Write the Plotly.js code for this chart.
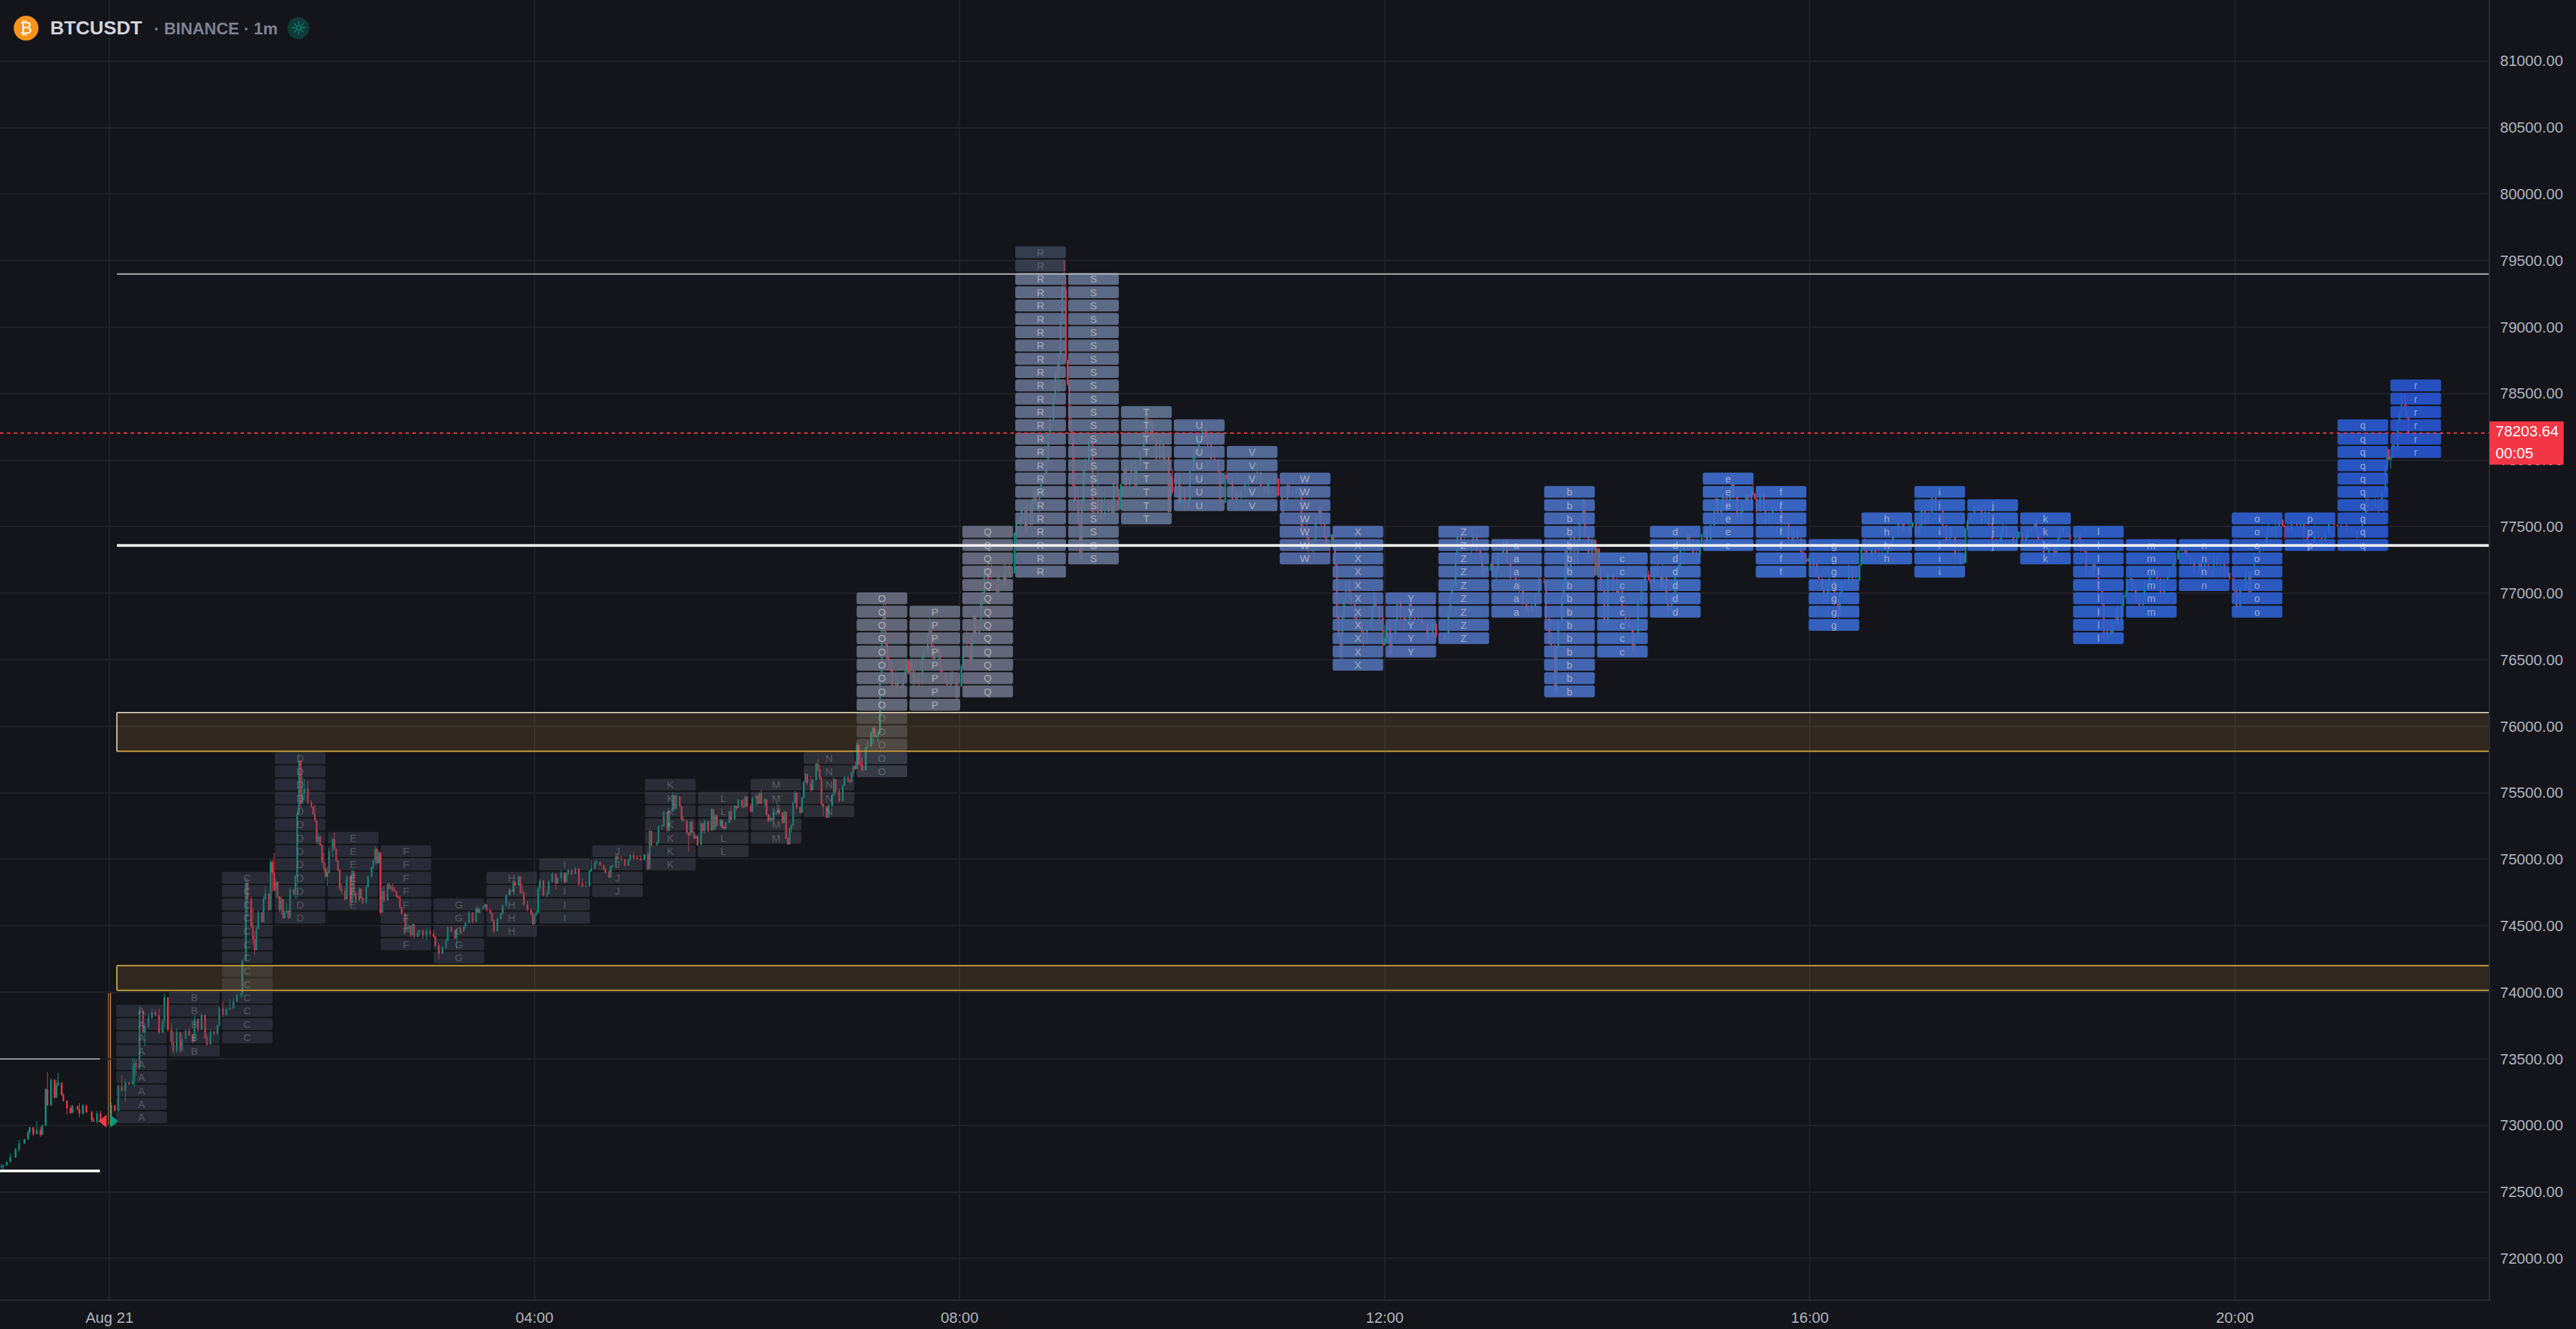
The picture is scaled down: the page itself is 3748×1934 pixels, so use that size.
<!DOCTYPE html>
<html><head><meta charset="utf-8">
<script src="https://cdn.plot.ly/plotly-3.0.1.min.js"></script>
<style>html,body{margin:0;padding:0;background:#14151a}#chart{width:3748px;height:1934px}</style>
</head><body><div id="chart"></div>
<script>
// ---------- TPO profile (one column per 30 min period)
const tpoLetters = ['A','B','C','D','E','F','G','H','I','J','K','L','M','N','O','P','Q','R','S','T','U','V','W','X','Y','Z','a','b','c','d','e','f','g','h','i','j','k','l','m','n','o','p','q','r'];
const tpoLow  = [73000,73500,73600,74500,74600,74300,74200,74400,74500,74700,74900,75000,75100,75300,75600,76100,76200,77100,77200,77500,77600,77600,77200,76400,76500,76600,76800,76200,76500,76800,77300,77100,76700,77200,77100,77300,77200,76600,76800,77000,76800,77300,77300,78000];
const tpoHigh = [73900,74000,74900,75800,75200,75100,74700,74900,75000,75100,75600,75500,75600,75800,77000,76900,77500,79600,79400,78400,78300,78100,77900,77500,77000,77500,77400,77800,77300,77500,77900,77800,77400,77600,77800,77700,77600,77500,77400,77400,77600,77600,78300,78600];
const tpoColors = ['#464b5a','#464b5a','#464b5a','#464b5a','#464b5a','#464b5a','#464b5a','#4a4e5c','#4a4e5c','#4a4e5c','#4a4e5c','#50535f','#50535f','#50535f','#696f82','#696f82','#6c7084','#657290','#657392','#627495','#5d72a0','#5a72a4','#556fac','#5170b3','#516eb8','#4e70bb','#4d70bc','#496fc2','#456fc7','#426fcb','#3f6ecf','#3c6cd1','#3869d1','#3869d2','#3568d2','#3467d3','#3365d3','#3063d3','#2f62d3','#2e61d3','#2d60d3','#2b5dd3','#2a5bd3','#2857d1'];
const valueAreaLow = 76100, valueAreaHigh = 79400;
const tpoStep = 100;

// ---------- price levels
const lastPrice = 78203.64;
const priceCountdown = '00:05';
const upperLevel = 79399, pocLevel = 77359;
const prevHighLevel = 73500, prevPocLevel = 72658;
const upperZone = [75812, 76103], lowerZone = [74015, 74200];
const rangeHigh = 74000, rangeLow = 73000;
const markerPrice = 73032;
const priceTicks = [72000,72500,73000,73500,74000,74500,75000,75500,76000,76500,77000,77500,78000,78500,79000,79500,80000,80500,81000];
const timeTickMinutes = [0,240,480,720,960,1200];
const timeTickLabels = ['Aug 21','04:00','08:00','12:00','16:00','20:00'];

// ---------- candles, rows of [minutes from Aug 21 00:00, high, low, close]
const candlesPrevSession = [
[-61,72710,72670,72690],[-60,72700,72665,72700],[-58,72730,72700,72725],[-56,72790,72720,72760],[-53,72835,72770,72820],[-51,72890,72800,72865],[-48,72900,72860,72895],[-46,72965,72900,72950],[-45,72990,72930,72985],[-43,72985,72920,72935],[-41,73030,72955,72965],[-39,72990,72915,72930],[-38,73005,72940,73000],[-36,73280,73000,73270],[-35,73400,73150,73150],[-33,73355,73150,73340],[-31,73350,73200,73210],[-30,73340,73290,73300],[-29,73395,73310,73320],[-27,73310,73225,73230],[-26,73245,73180,73185],[-24,73180,73080,73130],[-22,73150,73085,73095],[-21,73155,73120,73145],[-18,73140,73115,73120],[-17,73165,73060,73090],[-15,73160,73080,73150],[-13,73145,73095,73100],[-10,73110,73025,73040],[-9,73060,73025,73030],[-7,73110,73015,73090],[-5,73110,73025,73035],[-3,73060,73025,73045]];
const candlesEarlyMorning = [
[1,73176,73068,73150],[3,73140,73104,73110],[5,73304,73176,73290],[7,73377,73258,73260],[9,73349,73176,73320],[11,73330,73304,73310],[13,73504,73313,73330],[14,73504,73285,73470],[15,73495,73377,73440],[17,73900,73422,73860],[19,73850,73695,73700],[20,73767,73595,73740],[22,73840,73758,73810],[24,73876,73804,73850],[26,73867,73822,73830],[28,73876,73686,73700],[30,73795,73722,73780],[31,73990,73740,73960],[33,73785,73704,73720],[35,73767,73604,73630],[36,73704,73540,73560],[38,73731,73540,73700],[40,73640,73540,73560],[41,73686,73558,73650],[43,73722,73677,73710],[45,73740,73668,73680],[47,73668,73617,73630],[48,73831,73668,73800],[50,73758,73704,73720],[52,73849,73767,73830],[54,73777,73649,73660],[55,73686,73595,73610],[57,73722,73668,73700],[59,73713,73677,73690],[61,73758,73677,73750],[62,73895,73767,73880],[64,73931,73813,73830],[66,73886,73822,73870],[68,73949,73867,73880],[70,73958,73913,73930],[72,73995,73931,73980],[74,73995,73958,73985],
[75,74248,73964,74240],[77,74859,74274,74820],[78,74859,74566,74700],[80,74721,74480,74500],[81,74635,74360,74400],[82,74463,74282,74320],[83,74497,74394,74480],[84,74618,74497,74600],[86,74566,74523,74530],[87,74721,74583,74700],[88,74799,74730,74740],[90,74747,74609,74620],[91,74997,74670,74980],[92,74997,74756,74900],[93,75048,74756,74770],[94,74850,74704,74830],[95,74799,74704,74720],[96,74704,74601,74620],[97,74721,74583,74700],[98,74678,74549,74560],[99,74618,74592,74600],[100,74670,74592,74610],[101,74618,74549,74560],[102,74790,74558,74770],[104,74781,74730,74740],[105,74885,74704,74870],[106,75358,74704,75340],[107,75785,75690,75740],[108,75750,75384,75420],[109,75617,75419,75500],[110,75603,75445,75530],[112,75591,75410,75430],[114,75445,75384,75395],[115,75384,75333,75340],[116,75410,75281,75290],[117,75272,75117,75130],[118,75195,75109,75170],[119,75178,75100,75110],[120,75100,74971,74980],[121,75048,74911,74930],[122,74971,74859,74870],[123,74945,74799,74900],[124,75083,74893,75060],[126,75169,75014,75150],[127,75198,75066,75080],[128,75066,74980,74990],[129,74988,74911,74920],[130,74919,74764,74780],[131,74816,74739,74760],[133,74790,74687,74700],[134,74885,74773,74870],[136,74790,74652,74680],[137,74928,74756,74910],[138,74781,74721,74750],[139,74756,74670,74690],[141,74790,74739,74780],[142,74781,74704,74710],[143,74704,74661,74670],[145,74807,74687,74790],[146,74876,74790,74870],[148,74945,74876,74940],[149,74997,74928,74990],[150,75100,74962,75080],[151,75040,74962,74970],[152,75066,74997,75050],[153,75005,74583,74600],[154,74790,74635,74760],[155,74799,74678,74690],[157,74825,74739,74810],[158,74825,74773,74780],[159,74807,74756,74790],[160,74816,74756,74770],[161,74790,74756,74760],[162,74756,74713,74720],[163,74730,74704,74710],[164,74730,74627,74640],[165,74627,74583,74590],[167,74601,74446,74470],[168,74583,74463,74480],[169,74515,74454,74500],[170,74480,74411,74430],[171,74523,74463,74510],[172,74506,74403,74420],[174,74472,74411,74450],[175,74472,74429,74465],[177,74472,74403,74430],[179,74480,74394,74460],[181,74472,74411,74440],[183,74472,74411,74420],[184,74411,74343,74350],[186,74368,74248,74290],[188,74351,74308,74340],[190,74403,74325,74390],[191,74497,74403,74490],[193,74497,74446,74460],[195,74472,74394,74410],[196,74480,74325,74470],[198,74497,74446,74460],[200,74497,74454,74490],[201,74532,74480,74520],[203,74609,74515,74600],[205,74566,74515,74530],[207,74644,74566,74630],[208,74649,74592,74600],[209,74635,74592,74625],[211,74649,74618,74645],[212,74670,74627,74660],[213,74627,74609,74620],[215,74610,74590,74595],[216,74601,74532,74540],[217,74549,74446,74460],[219,74566,74497,74550],[221,74601,74549,74590],[222,74661,74601,74650],[224,74739,74652,74730],[226,74773,74730,74760],[228,74842,74756,74830],[229,74833,74790,74805],[231,74885,74799,74870],[232,74850,74739,74750],[233,74816,74739,74745],[234,74764,74652,74660],[236,74687,74609,74620],[238,74635,74575,74590],[239,74609,74506,74515],[240,74592,74515,74580],[241,74618,74592,74600],[242,74799,74592,74780],[243,74850,74756,74840],[245,74799,74721,74730],[247,74764,74713,74740],[248,74842,74764,74830],[250,74902,74825,74890],[252,74842,74773,74820],[253,74868,74833,74860],[255,74919,74833,74900],[257,74859,74816,74830],[258,74902,74833,74890],[259,74928,74876,74920],[261,74902,74876,74890],[263,74945,74893,74930]];
const candlesLateMorning = [
[265,74885,74799,74815],[267,74859,74790,74795],[269,74833,74790,74800],[271,74919,74799,74910],[272,74997,74919,74930],[274,74988,74937,74970],[275,74997,74962,74980],[277,74971,74945,74955],[279,74962,74919,74925],[280,74937,74893,74900],[282,74919,74859,74865],[283,74954,74902,74945],[284,74962,74937,74950],[286,75031,74945,75020],[287,75040,74997,75005],[289,75031,74988,75000],[291,74997,74945,74955],[293,75005,74962,74995],[294,75040,74997,75030],[296,75057,74997,75010],[298,75031,74997,75005],[300,75031,74988,74995],[302,75040,75023,75035],[304,75057,74919,74930],[305,75229,74962,75210],[306,75143,75091,75110],[309,75134,75100,75125],[310,75255,75134,75245],[312,75264,75221,75250],[313,75367,75272,75355],[315,75358,75203,75215],[316,75367,75289,75360],[318,75505,75376,75480],[319,75445,75367,75380],[320,75496,75393,75470],[322,75445,75393,75400],[323,75393,75289,75300],[324,75324,75281,75290],[326,75298,75186,75200],[327,75195,75057,75180],[328,75289,75195,75280],[329,75298,75195,75205],[330,75203,75152,75160],[331,75186,75152,75170],[332,75186,75100,75110],[334,75281,75186,75270],[335,75229,75195,75215],[336,75298,75195,75285],[338,75264,75203,75215],[340,75384,75264,75375],[341,75341,75212,75225],[342,75341,75289,75330],[343,75289,75247,75255],[345,75307,75247,75295],[346,75281,75229,75240],[347,75255,75221,75230],[348,75281,75238,75275],[350,75367,75272,75360],[351,75401,75289,75300],[353,75410,75358,75400],[354,75401,75367,75385],[355,75453,75384,75445],[357,75436,75384,75400],[358,75453,75384,75390],[359,75479,75401,75470],[360,75470,75393,75400],[362,75419,75350,75360],[363,75470,75350,75460],[365,75488,75401,75475],[366,75488,75401,75420],[367,75505,75462,75495],[368,75522,75410,75420],[370,75462,75393,75450],[371,75401,75324,75335],[372,75341,75281,75290],[373,75333,75281,75310],[374,75307,75289,75295],[375,75358,75281,75350],[377,75436,75358,75365],[378,75410,75341,75350],[380,75315,75264,75275],[381,75367,75272,75355],[382,75264,75152,75160],[383,75160,75109,75115],[384,75238,75117,75230],[385,75264,75203,75255],[386,75436,75272,75425],[387,75513,75419,75500],[388,75462,75376,75390],[390,75401,75341,75350],[391,75470,75410,75460],[392,75591,75462,75580],[393,75651,75582,75640],[394,75643,75556,75570],[396,75625,75505,75520],[397,75608,75531,75595],[399,75729,75608,75715],[400,75754,75660,75670],[401,75711,75599,75610],[402,75617,75401,75415],[403,75410,75324,75395],[405,75401,75307,75315],[406,75419,75315,75405],[408,75488,75393,75480],[409,75617,75479,75600],[410,75548,75496,75510],[412,75531,75427,75440],[414,75565,75496,75555],[415,75625,75548,75615],[417,75625,75582,75590],[418,75600,75568,75580],[419,75660,75617,75650],[420,75711,75617,75700],[421,75737,75668,75680],[422,75875,75720,75860],[423,75823,75703,75715],[424,75815,75703,75710],[425,75763,75660,75670],[427,75849,75720,75840],[428,75892,75840,75850],[430,75961,75866,75950],[431,75996,75866,75985],[432,76005,75909,75920],[433,75935,75909,75925],[434,75961,75875,75950],[435,76405,75970,76390],[436,76805,76405,76790],[437,76918,76701,76880],[438,76918,76605,76620],[439,76579,76501,76510],[440,76536,76423,76440],[441,76501,76405,76420],[442,76475,76275,76300],[444,76414,76301,76320],[445,76370,76283,76300],[447,76310,76275,76290],[448,76379,76249,76360],[449,76423,76362,76410],[450,76518,76388,76500],[451,76475,76388,76400],[452,76510,76388,76490],[453,76510,76405,76420],[454,76405,76301,76330],[455,76492,76370,76380],[457,76405,76301,76320],[459,76544,76405,76530],[460,76570,76501,76560],[462,76701,76614,76690],[463,76814,76701,76790],[464,76701,76596,76610],[465,76614,76492,76510],[466,76544,76501,76530],[468,76596,76492,76580],[469,76492,76405,76420],[470,76492,76396,76405],[472,76405,76336,76345],[473,76318,76301,76310],[475,76414,76301,76400],[476,76414,76336,76350],[478,76405,76196,76220],[479,76318,76196,76300]];
const candlesMidDay = [
[481,76466,76327,76450],[482,76622,76510,76600],[484,76745,76579,76590],[486,76666,76492,76505],[487,76701,76501,76690],[488,76840,76675,76830],[489,76805,76675,76690],[491,76753,76701,76740],[492,76953,76753,76940],[493,77014,76910,77000],[494,77206,77014,77190],[496,77214,77066,77080],[498,77223,77049,77060],[501,77119,76997,77010],[502,77153,76945,77140],[505,77223,77049,77060],[506,77223,77101,77200],[508,77223,77119,77150],[511,77459,77173,77450],[512,77545,77398,77540],[514,77571,77450,77560],[515,77658,77502,77650],[517,77606,77450,77460],[518,77675,77450,77665],[520,77606,77502,77515],[521,77710,77589,77700],[522,77797,77641,77785],[523,77710,77675,77690],[525,77762,77589,77755],[526,77866,77788,77860],[528,77909,77866,77900],[529,78005,77918,77995],[530,78204,77996,78195],[531,78317,78195,78305],[533,78490,78403,78480],[534,78672,78525,78660],[535,78715,78611,78620],[536,78802,78507,78790],[537,79070,78819,79060],[538,79322,79114,79300],[539,79504,79296,79280],[540,79374,78733,78750],[541,78733,78559,78570],[542,78559,78213,78225],[543,78412,78195,78210],[544,78195,77797,77810],[545,78100,77675,77690],[547,77797,77502,77520],[548,77606,77242,77260],[549,77710,77502,77690],[550,77935,77693,77925],[551,78013,77840,78000],[553,78161,77970,78145],[555,77797,77589,77610],[556,77710,77589,77600],[558,77935,77693,77700],[560,77762,77554,77580],[562,77797,77598,77610],[564,77710,77623,77650],[566,77710,77589,77600],[567,77840,77589,77825],[569,77806,77762,77780],[570,77710,77623,77630],[571,77823,77710,77815],[573,77953,77814,77940],[574,77962,77806,77810],[576,77901,77806,77890],[577,78005,77901,77995],[579,77909,77797,77810],[580,77953,77892,77935],[582,78074,77970,78060],[584,78213,78091,78200],[585,78360,78178,78345],[586,78317,78195,78210],[588,78308,78178,78290],[589,78291,78143,78160],[591,78100,77996,78010],[593,78178,78100,78115],[595,78109,77996,78010],[596,78057,77996,78040],[598,78065,77598,77610],[599,77883,77779,77870],[600,77935,77745,77760],[602,77901,77797,77890],[604,77806,77659,77680],[605,77814,77659,77790],[607,77771,77624,77640],[609,77710,77675,77700],[610,77935,77797,77920],[612,78074,77996,78060],[613,78091,77970,78080],[615,78161,78040,78150],[617,78247,78161,78235],[619,78239,78143,78160],[620,78230,78100,78115],[622,78135,77996,78010],[624,78057,77996,78005],[626,77996,77901,77915],[627,77797,77659,77680],[630,77909,77806,77890],[631,77962,77849,77860],[632,77901,77849,77870],[634,77806,77693,77700],[636,77779,77624,77760],[637,77762,77702,77720],[639,77797,77693,77775],[641,77849,77797,77840],[643,77884,77797,77870],[646,77901,77832,77845],[648,77996,77901,77910],[650,77849,77797,77805],[652,77797,77745,77755],[654,77840,77779,77830],[655,77866,77797,77855],[658,77884,77814,77860],[660,77823,77728,77735]];
const candlesAfternoon = [
[662,77726,77604,77615],[663,77709,77587,77690],[665,77822,77665,77810],[666,77813,77726,77740],[668,77769,77735,77750],[670,77804,77709,77790],[672,77804,77726,77735],[673,77726,77465,77480],[674,77517,77413,77500],[676,77517,77396,77420],[677,77422,77309,77320],[679,77396,77309,77380],[680,77413,77248,77390],[681,77578,77413,77560],[683,77665,77578,77650],[684,77674,77500,77520],[686,77509,77413,77425],[687,77422,77352,77360],[689,77361,77291,77350],[690,77448,77344,77440],[691,77448,77352,77360],[692,77317,77204,77215],[693,77152,76804,76830],[694,76804,76665,76680],[695,76700,76500,76520],[696,76839,76500,76820],[697,76961,76804,76950],[698,77100,76961,77090],[700,77030,76961,76975],[701,77030,76909,76920],[703,76926,76804,76815],[704,76839,76752,76770],[706,76909,76769,76780],[707,76804,76700,76710],[708,76735,76604,76620],[710,76752,76665,76740],[712,76813,76752,76800],[713,76909,76804,76895],[714,77013,76909,77000],[715,77004,76891,76900],[717,76909,76804,76815],[719,76909,76595,76610],[720,76761,76648,76660],[721,76752,76700,76745],[723,76804,76535,76550],[724,76700,76535,76690],[726,76804,76700,76795],[727,76952,76804,76940],[729,76961,76804,76815],[731,76804,76717,76790],[732,76822,76796,76805],[734,76970,76804,76955],[735,76909,76804,76815],[737,76813,76796,76800],[739,76891,76796,76805],[741,76848,76752,76770],[744,76752,76639,76650],[745,76752,76690,76700],[747,76778,76709,76770],[749,76726,76665,76675],[751,76700,76630,76690],[754,76700,76639,76650],[756,76865,76700,76855],[757,76996,76900,76985],[758,77065,76996,77055],[760,77308,77100,77295],[761,77430,77326,77420],[763,77422,77309,77320],[765,77422,77326,77380],[767,77396,77326,77340],[769,77361,77282,77350],[770,77456,77352,77440],[772,77396,77309,77320],[774,77309,77265,77280],[775,77265,77135,77150],[776,77213,77126,77190],[778,77204,77152,77170],[780,77230,77178,77220],[781,77221,77117,77130],[783,77187,77100,77170],[784,77309,77204,77295],[786,77309,77265,77300],[787,77404,77309,77395],[789,77317,77221,77235],[791,77213,77100,77115],[794,77117,77065,77085],[796,77109,77004,77020],[798,77013,76909,76920],[800,76952,76865,76880],[801,76909,76848,76860],[803,76917,76865,76905],[805,77004,76900,76995],[807,77117,77004,77105],[808,77204,77100,77090],[810,77117,77074,77085],[811,77004,76796,76810],[813,76769,76613,76630],[814,76709,76595,76610],[816,76596,76248,76260],[817,76596,76239,76590],[818,76796,76596,76785],[820,76978,76796,76970],[821,77100,77013,77090],[822,77326,77100,77315],[823,77291,77152,77160],[825,77430,77309,77420],[827,77309,77213,77225],[829,77413,77309,77400],[830,77552,77413,77540],[832,77708,77517,77695],[833,77622,77413,77425],[835,77413,77256,77270],[837,77413,77309,77400],[839,77221,77126,77135],[840,77343,77213,77335],[841,77213,77187,77190],[842,77117,77013,77030],[844,77039,76752,76770],[846,77152,76839,77140],[849,77117,77004,77030],[851,77117,76987,77000],[852,77100,77004,77020],[854,76970,76830,76845],[856,76909,76769,76780],[858,76856,76735,76745],[860,76709,76552,76565],[861,76682,76613,76670],[863,76952,76656,76940],[865,77100,76909,77090],[867,77152,77013,77140],[869,77169,77091,77100],[870,77143,77065,77075]];
const candlesEvening = [
[872,77204,77100,77190],[874,77221,77117,77130],[876,77109,77030,77040],[877,77221,77100,77120],[879,77074,76926,76940],[880,76952,76856,76870],[882,76996,76874,76985],[884,77187,76996,77170],[886,77221,77117,77210],[887,77343,77239,77330],[889,77352,77300,77340],[891,77448,77326,77440],[892,77448,77352,77360],[894,77413,77291,77300],[896,77387,77283,77290],[898,77352,77291,77345],[899,77448,77352,77440],[901,77491,77413,77480],[902,77413,77378,77390],[904,77517,77448,77510],[906,77639,77509,77625],[907,77717,77622,77710],[908,77665,77587,77600],[910,77648,77587,77640],[911,77743,77648,77730],[913,77700,77613,77625],[915,77778,77717,77765],[916,77830,77717,77820],[917,77813,77708,77720],[919,77622,77561,77575],[921,77622,77561,77610],[922,77691,77535,77680],[924,77752,77622,77740],[925,77726,77656,77670],[927,77778,77708,77765],[928,77822,77735,77745],[929,77752,77700,77710],[930,77717,77604,77615],[932,77761,77622,77750],[934,77717,77622,77630],[935,77613,77517,77530],[937,77613,77517,77600],[939,77656,77561,77640],[941,77656,77613,77625],[943,77656,77613,77650],[944,77622,77509,77520],[946,77561,77509,77530],[948,77509,77396,77410],[950,77430,77396,77405],[951,77482,77352,77470],[953,77474,77396,77410],[955,77361,77300,77310],[956,77309,77239,77250],[958,77300,77230,77240],[959,77265,77239,77260],[960,77230,77195,77205],[962,77309,77195,77220],[964,77213,77135,77145],[965,77152,77100,77110],[967,77100,77030,77040],[968,77013,76926,76940],[970,77082,76970,77070],[971,77117,77004,77105],[974,77013,76909,76920],[976,76909,76795,76830],[977,77013,76952,77000],[978,77100,77013,77090],[980,77109,77065,77080],[982,77213,77100,77200],[984,77117,77074,77085],[986,77187,77074,77095],[988,77221,77117,77210],[989,77352,77265,77340],[991,77413,77309,77325],[992,77352,77248,77290],[995,77369,77309,77320],[997,77317,77291,77300],[999,77317,77248,77280],[1001,77317,77291,77305],[1004,77335,77291,77320],[1006,77396,77326,77385],[1007,77448,77361,77435],[1010,77543,77430,77530],[1012,77569,77509,77520],[1013,77517,77456,77480],[1016,77517,77456,77470],[1017,77517,77482,77505],[1018,77535,77491,77530],[1020,77517,77430,77440],[1022,77517,77448,77510],[1023,77630,77517,77620],[1025,77613,77509,77520],[1027,77613,77517,77605],[1029,77726,77613,77715],[1031,77708,77622,77635],[1033,77656,77613,77625],[1035,77569,77500,77510],[1037,77500,77378,77390],[1039,77500,77413,77490],[1040,77500,77413,77425],[1042,77335,77256,77270],[1044,77317,77256,77285],[1045,77282,77213,77230],[1048,77491,77378,77480]];
const candlesNight = [
[1049,77552,77482,77545],[1051,77595,77552,77585],[1053,77656,77587,77645],[1055,77656,77622,77630],[1057,77622,77517,77530],[1059,77622,77535,77610],[1061,77569,77509,77515],[1063,77500,77387,77400],[1065,77413,77335,77350],[1066,77396,77326,77385],[1068,77465,77378,77455],[1069,77517,77422,77505],[1071,77448,77413,77425],[1073,77448,77413,77430],[1075,77422,77352,77370],[1077,77430,77396,77415],[1078,77465,77439,77460],[1080,77439,77387,77405],[1082,77430,77396,77420],[1083,77491,77413,77480],[1085,77491,77456,77470],[1087,77561,77509,77550],[1088,77517,77448,77465],[1089,77422,77396,77405],[1091,77413,77378,77395],[1092,77396,77274,77285],[1095,77396,77300,77380],[1096,77396,77352,77365],[1098,77352,77274,77290],[1099,77361,77282,77350],[1100,77422,77309,77410],[1101,77500,77413,77490],[1103,77465,77430,77450],[1106,77456,77430,77440],[1107,77430,77396,77410],[1110,77465,77413,77425],[1112,77448,77396,77405],[1113,77465,77309,77320],[1115,77343,77309,77315],[1116,77309,77152,77165],[1118,77204,77117,77130],[1120,77230,77170,77215],[1121,77239,77178,77190],[1123,77117,77004,77020],[1125,77013,76909,76920],[1126,76909,76648,76660],[1128,76787,76700,76715],[1130,76795,76674,76690],[1131,76787,76709,76775],[1133,76891,76804,76880],[1134,76909,76752,76770],[1136,76917,76822,76905],[1137,76978,76917,76970],[1138,77013,76970,76985],[1139,77117,77013,77105],[1141,77195,77100,77110],[1142,77082,77013,77025],[1144,77065,76926,76940],[1146,76996,76900,76910],[1148,76961,76856,76945],[1149,77082,76952,77070],[1152,77143,77091,77130],[1154,77187,77117,77175],[1156,77135,77100,77110],[1158,77048,76978,76995],[1160,77117,77065,77105],[1162,77135,77100,77120],[1163,77204,77117,77195],[1165,77221,77170,77210],[1166,77265,77213,77255],[1168,77326,77274,77320],[1170,77352,77309,77340],[1172,77335,77282,77295],[1173,77317,77265,77275],[1175,77265,77213,77225],[1177,77256,77135,77150],[1180,77256,77204,77240],[1181,77213,77117,77130],[1183,77256,77204,77215],[1185,77178,77152,77170],[1187,77170,77117,77125],[1188,77282,77187,77275],[1190,77239,77204,77215],[1192,77248,77135,77230],[1194,77204,77117,77130],[1196,77204,77135,77150],[1197,77152,77100,77110],[1199,77117,77022,77040],[1200,77065,77004,77015],[1201,77013,76874,76890],[1203,77048,76943,77030],[1206,77178,77065,77165],[1208,77100,76996,77010],[1209,77170,77065,77160],[1211,77309,77170,77295],[1214,77361,77309,77320],[1216,77361,77309,77350],[1218,77465,77413,77450],[1219,77517,77465,77500],[1221,77491,77422,77435],[1223,77517,77413,77500],[1225,77561,77509,77550],[1227,77526,77500,77510],[1228,77509,77406,77495],[1230,77518,77458,77470],[1232,77552,77509,77540],[1235,77518,77501,77510],[1237,77543,77501,77530],[1239,77475,77406,77420],[1241,77415,77363,77380],[1245,77518,77458,77470],[1247,77458,77406,77415],[1249,77406,77329,77395],[1251,77458,77406,77445],[1253,77543,77501,77530],[1256,77526,77501,77515],[1258,77518,77501,77505],[1260,77518,77501,77510],[1263,77518,77475,77480],[1266,77483,77458,77470],[1269,77466,77406,77430],[1272,77612,77509,77600],[1274,77715,77604,77700],[1275,77775,77612,77625],[1277,77707,77621,77640],[1279,77715,77672,77690],[1281,77715,77604,77620],[1283,77758,77707,77750],[1285,77964,77810,77955],[1286,78093,77964,78080],[1287,78050,77999,78005],[1288,78041,77939,78025],[1289,78119,78016,78110],[1290,78179,78059,78070],[1292,78300,78119,78290],[1293,78377,78308,78365],[1294,78506,78411,78495],[1296,78463,78360,78380],[1297,78463,78308,78325],[1298,78257,78128,78203.64]];
const candleSets = [candlesPrevSession, candlesEarlyMorning, candlesLateMorning, candlesMidDay, candlesAfternoon, candlesEvening, candlesNight];

// ---------- styles
const BG='#14151a', GRID='#202128', AXIS='#2b2d33', LABEL='#b2b5be';
const UP='#089981', DOWN='#f23645', GOLD='#c9a23e', BEIGE='#c8bfa8', ORANGE='#e69a52';
const sessionStart = Date.UTC(2025,7,21);
const t = m => sessionStart + m*60000;
const viewMinutes = [-61.8, 1343.3];
const viewPrices = [71692, 81458];
const cellPad = 17, cellHeight = 89;

// candles
const rows = [].concat(...candleSets);
const cX=[], cO=[], cH=[], cL=[], cC=[];
rows.forEach((r,i)=>{
  cX.push(t(r[0])); cH.push(r[1]); cL.push(r[2]); cC.push(r[3]);
  cO.push(i===0 ? r[3] : rows[i-1][3]);
});

// TPO cells
function rgba(hex,a){const n=parseInt(hex.slice(1),16);return `rgba(${n>>16},${(n>>8)&255},${n&255},${a})`;}
const bX=[],bBase=[],bY=[],bColor=[],bText=[],bTextColor=[];
tpoLetters.forEach((letter,i)=>{
  for(let p=tpoLow[i];p<tpoHigh[i];p+=tpoStep){
    const inside = p>=valueAreaLow && p<valueAreaHigh;
    bX.push(i); bBase.push(p+cellPad); bY.push(cellHeight);
    bColor.push(rgba(tpoColors[i], inside?0.9:0.42));
    bText.push(letter);
    bTextColor.push(inside?'rgba(205,205,205,0.7)':'rgba(200,200,200,0.3)');
  }
});

const traces=[
 {type:'candlestick',x:cX,open:cO,high:cH,low:cL,close:cC,xaxis:'x',yaxis:'y',
  increasing:{line:{color:UP,width:1},fillcolor:UP},decreasing:{line:{color:DOWN,width:1},fillcolor:DOWN},
  whiskerwidth:0,hoverinfo:'skip',showlegend:false},
 {type:'scatter',mode:'markers',x:[t(-3.2)],y:[markerPrice],marker:{symbol:'triangle-left',size:16,color:DOWN},hoverinfo:'skip',showlegend:false},
 {type:'scatter',mode:'markers',x:[t(2)],y:[markerPrice],marker:{symbol:'triangle-right',size:16,color:UP},hoverinfo:'skip',showlegend:false},
 {type:'bar',x:bX,y:bY,base:bBase,width:0.958,xaxis:'x2',yaxis:'y2',
  marker:{color:bColor,cornerradius:3,line:{width:0}},
  text:bText,textposition:'inside',insidetextanchor:'middle',textangle:0,constraintext:'none',
  insidetextfont:{family:'Liberation Sans, Arial, sans-serif',size:15,color:bTextColor},
  hoverinfo:'skip',showlegend:false,cliponaxis:false}
];

const zoneLeft=t(4.2), rightEdge=t(viewMinutes[1]);
const hline=(y,x0,x1,color,width,dash)=>({type:'line',xref:'x',yref:'y',x0:x0,x1:x1,y0:y,y1:y,layer:'above',line:{color:color,width:width,dash:dash||'solid'}});
const vline=(x,y0,y1,color,width,layer)=>({type:'line',xref:'x',yref:'y',x0:x,x1:x,y0:y0,y1:y1,layer:layer||'above',line:{color:color,width:width}});
const zoneRect=(z)=>({type:'rect',xref:'x',yref:'y',x0:zoneLeft,x1:rightEdge,y0:z[0],y1:z[1],layer:'above',fillcolor:'rgba(212,160,60,0.146)',line:{width:0}});
const pxCircle=(x0,x1,y0,y1,fill)=>({type:'circle',xref:'paper',yref:'paper',xsizemode:'pixel',ysizemode:'pixel',xanchor:0,yanchor:1,x0:x0,x1:x1,y0:-y0,y1:-y1,fillcolor:fill,line:{width:0},layer:'above'});

const shapes=[
 zoneRect(upperZone),zoneRect(lowerZone),
 hline(upperZone[1],zoneLeft,rightEdge,BEIGE,2),hline(upperZone[0],zoneLeft,rightEdge,GOLD,2),vline(zoneLeft,upperZone[0],upperZone[1],BEIGE,2),
 hline(lowerZone[1],zoneLeft,rightEdge,GOLD,2),hline(lowerZone[0],zoneLeft,rightEdge,GOLD,2),vline(zoneLeft,lowerZone[0],lowerZone[1],GOLD,2),
 hline(upperLevel,zoneLeft,rightEdge,'#b4b4b4',2),
 hline(pocLevel,zoneLeft,rightEdge,'#eeeeee',4),
 hline(prevHighLevel,t(viewMinutes[0]),t(-5.4),'#9a9ca3',2),
 hline(prevPocLevel,t(viewMinutes[0]),t(-5.4),'#eeeeee',4),
 vline(t(0),rangeLow,rangeHigh,ORANGE,4,'below'),
 {...hline(rangeHigh,t(0),t(4.2),ORANGE,2),layer:'below'},
 {...hline(rangeLow,t(0),t(4.2),ORANGE,2),layer:'below'},
 hline(lastPrice,t(viewMinutes[0]),rightEdge,DOWN,2,'5px,5px'),
 {type:'rect',xref:'paper',xsizemode:'pixel',xanchor:1,x0:1,x1:109,yref:'y',ysizemode:'pixel',yanchor:lastPrice,y0:17,y1:-46,fillcolor:DOWN,line:{width:0},layer:'above'},
 pxCircle(20,56,23,59,'#f7931a'),
 pxCircle(418,450,25,57,'#0f3a36')
];

const F='Liberation Sans, Arial, sans-serif';
const headerNote=(text,xs,ys,font)=>({xref:'paper',yref:'paper',x:0,y:1,xanchor:'left',yanchor:'middle',xshift:xs,yshift:-ys,text:text,showarrow:false,font:font});
const annotations=[
 {...headerNote('₿',38,41,{family:'DejaVu Sans, '+F,size:24,color:'#ffffff'}),xanchor:'center'},
 headerNote('<b>BTCUSDT</b>',71,40,{family:F,size:28,color:'#d1d4dc'}),
 headerNote('<b>· BINANCE · 1m</b>',222,41,{family:F,size:24,color:'#7f8290'}),
 {...headerNote('☼',434,41,{family:'DejaVu Sans',size:26,color:UP}),xanchor:'center'},
 {xref:'paper',yref:'y',x:1,y:lastPrice,xanchor:'left',yanchor:'middle',xshift:8,yshift:3,text:lastPrice.toFixed(2),showarrow:false,font:{family:F,size:22,color:'#ffffff'}},
 {xref:'paper',yref:'y',x:1,y:lastPrice,xanchor:'left',yanchor:'middle',xshift:8,yshift:-29,text:priceCountdown,showarrow:false,font:{family:F,size:22,color:'#ffffff'}}
];

const layout={
 width:3748,height:1934,margin:{l:0,r:127,t:0,b:43,pad:0},
 paper_bgcolor:BG,plot_bgcolor:BG,showlegend:false,boxgap:0.2,boxmode:'overlay',
 font:{family:F,size:22,color:LABEL},
 xaxis:{type:'date',range:[t(viewMinutes[0]),rightEdge],tickmode:'array',tickvals:timeTickMinutes.map(t),ticktext:timeTickLabels,
   showgrid:true,gridcolor:GRID,gridwidth:2,zeroline:false,showline:true,linecolor:AXIS,linewidth:2,ticks:'',ticklabelstandoff:6,
   tickfont:{family:F,size:22,color:LABEL},rangeslider:{visible:false},fixedrange:true},
 yaxis:{side:'right',range:viewPrices,tickmode:'array',tickvals:priceTicks,tickformat:'.2f',
   showgrid:true,gridcolor:GRID,gridwidth:2,zeroline:false,showline:true,linecolor:AXIS,linewidth:2,ticks:'',ticklabelstandoff:10,
   tickfont:{family:F,size:22,color:LABEL},fixedrange:true},
 xaxis2:{overlaying:'x',range:[-2.675,44.38],visible:false,fixedrange:true},
 yaxis2:{overlaying:'y',range:viewPrices,visible:false,fixedrange:true},
 shapes:shapes,annotations:annotations
};
Plotly.newPlot('chart',traces,layout,{staticPlot:true,displayModeBar:false});
</script></body></html>
